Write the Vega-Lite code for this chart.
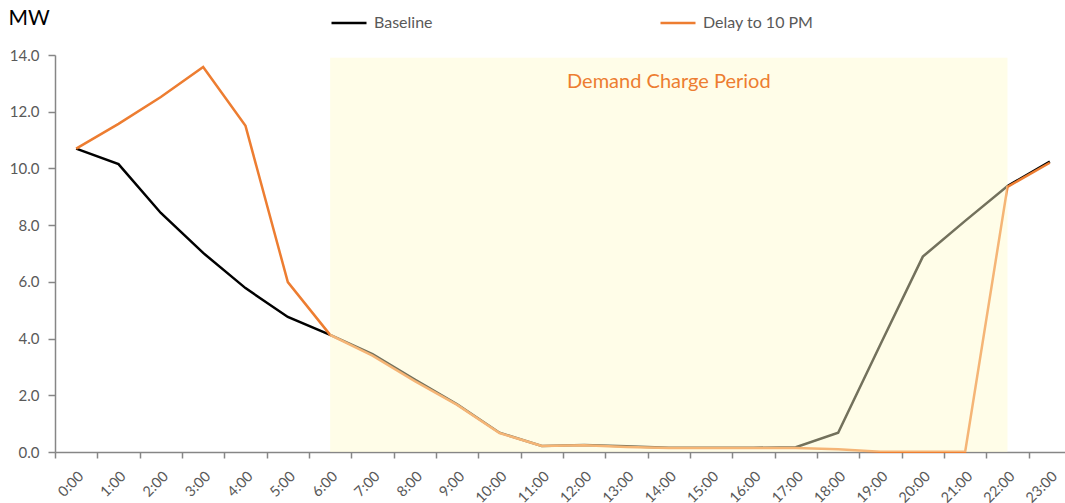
{
  "$schema": "https://vega.github.io/schema/vega-lite/v6.json",
  "width": 1010,
  "height": 397,
  "autosize": {"type": "none"},
  "padding": {"left": 55, "top": 55, "right": 0, "bottom": 51},
  "config": {
    "view": {"stroke": null},
    "font": "Lato",
    "axis": {"grid": false, "domainColor": "#868686", "tickColor": "#868686", "domainWidth": 1.5, "tickWidth": 1.5, "labelColor": "#595959", "labelFont": "Lato"},
    "legend": {"labelFont": "Lato"}
  },
  "datasets": {
    "series": [
      {"hour": "0:00", "series": "Baseline", "mw": 10.7},
      {"hour": "1:00", "series": "Baseline", "mw": 10.15},
      {"hour": "2:00", "series": "Baseline", "mw": 8.43},
      {"hour": "3:00", "series": "Baseline", "mw": 7.02},
      {"hour": "4:00", "series": "Baseline", "mw": 5.78},
      {"hour": "5:00", "series": "Baseline", "mw": 4.76},
      {"hour": "6:00", "series": "Baseline", "mw": 4.13},
      {"hour": "7:00", "series": "Baseline", "mw": 3.45},
      {"hour": "8:00", "series": "Baseline", "mw": 2.55},
      {"hour": "9:00", "series": "Baseline", "mw": 1.68},
      {"hour": "10:00", "series": "Baseline", "mw": 0.68},
      {"hour": "11:00", "series": "Baseline", "mw": 0.21},
      {"hour": "12:00", "series": "Baseline", "mw": 0.25},
      {"hour": "13:00", "series": "Baseline", "mw": 0.2},
      {"hour": "14:00", "series": "Baseline", "mw": 0.15},
      {"hour": "15:00", "series": "Baseline", "mw": 0.15},
      {"hour": "16:00", "series": "Baseline", "mw": 0.15},
      {"hour": "17:00", "series": "Baseline", "mw": 0.17},
      {"hour": "18:00", "series": "Baseline", "mw": 0.68},
      {"hour": "19:00", "series": "Baseline", "mw": 3.8},
      {"hour": "20:00", "series": "Baseline", "mw": 6.89},
      {"hour": "21:00", "series": "Baseline", "mw": 8.15},
      {"hour": "22:00", "series": "Baseline", "mw": 9.38},
      {"hour": "23:00", "series": "Baseline", "mw": 10.24},
      {"hour": "0:00", "series": "Delay to 10 PM", "mw": 10.7},
      {"hour": "1:00", "series": "Delay to 10 PM", "mw": 11.57},
      {"hour": "2:00", "series": "Delay to 10 PM", "mw": 12.52},
      {"hour": "3:00", "series": "Delay to 10 PM", "mw": 13.58},
      {"hour": "4:00", "series": "Delay to 10 PM", "mw": 11.5},
      {"hour": "5:00", "series": "Delay to 10 PM", "mw": 5.99},
      {"hour": "6:00", "series": "Delay to 10 PM", "mw": 4.13},
      {"hour": "7:00", "series": "Delay to 10 PM", "mw": 3.4},
      {"hour": "8:00", "series": "Delay to 10 PM", "mw": 2.5},
      {"hour": "9:00", "series": "Delay to 10 PM", "mw": 1.66},
      {"hour": "10:00", "series": "Delay to 10 PM", "mw": 0.67},
      {"hour": "11:00", "series": "Delay to 10 PM", "mw": 0.21},
      {"hour": "12:00", "series": "Delay to 10 PM", "mw": 0.24},
      {"hour": "13:00", "series": "Delay to 10 PM", "mw": 0.18},
      {"hour": "14:00", "series": "Delay to 10 PM", "mw": 0.14},
      {"hour": "15:00", "series": "Delay to 10 PM", "mw": 0.14},
      {"hour": "16:00", "series": "Delay to 10 PM", "mw": 0.14},
      {"hour": "17:00", "series": "Delay to 10 PM", "mw": 0.14},
      {"hour": "18:00", "series": "Delay to 10 PM", "mw": 0.1},
      {"hour": "19:00", "series": "Delay to 10 PM", "mw": 0.01},
      {"hour": "20:00", "series": "Delay to 10 PM", "mw": 0.01},
      {"hour": "21:00", "series": "Delay to 10 PM", "mw": 0.01},
      {"hour": "22:00", "series": "Delay to 10 PM", "mw": 9.35},
      {"hour": "23:00", "series": "Delay to 10 PM", "mw": 10.2}
    ],
    "period": [
      {"start": "6:00", "end": "22:00", "low": 0, "high": 13.9}
    ],
    "note": [
      {"hour": "14:00", "mw": 13.05, "label": "Demand Charge Period"}
    ]
  },
  "layer": [
    {
      "data": {"name": "series"},
      "mark": {"type": "line", "strokeWidth": 2.5},
      "encoding": {
        "x": {
          "field": "hour", "type": "ordinal", "sort": null,
          "scale": {
            "domain": ["0:00","1:00","2:00","3:00","4:00","5:00","6:00","7:00","8:00","9:00","10:00","11:00","12:00","13:00","14:00","15:00","16:00","17:00","18:00","19:00","20:00","21:00","22:00","23:00"],
            "type": "band", "range": [0, 1016], "paddingInner": 0, "paddingOuter": 0
          },
          "axis": {"title": null, "labelAngle": -45, "tickBand": "extent", "labelFontSize": 14.5, "tickSize": 6, "labelPadding": 11}
        },
        "y": {
          "field": "mw", "type": "quantitative",
          "scale": {"domain": [0, 14], "nice": false, "zero": true},
          "axis": {
            "values": [0, 2, 4, 6, 8, 10, 12, 14], "format": ".1f",
            "labelFontSize": 15, "tickSize": 7, "labelPadding": 9,
            "title": "MW", "titleAngle": 0, "titleX": -47, "titleY": -37,
            "titleAlign": "left", "titleBaseline": "middle",
            "titleFontSize": 21, "titleFontWeight": "normal", "titleColor": "#000000", "titleFont": "Lato"
          }
        },
        "color": {
          "field": "series", "type": "nominal",
          "scale": {"domain": ["Baseline", "Delay to 10 PM"], "range": ["#000000", "#ED7D31"]},
          "legend": {
            "title": null, "orient": "none", "legendX": 275, "legendY": -51,
            "direction": "horizontal", "columns": 2, "columnPadding": 222,
            "symbolType": "stroke", "symbolSize": 1225, "symbolStrokeWidth": 2.5,
            "labelFontSize": 16, "labelColor": "#595959", "labelOffset": 6
          }
        }
      }
    },
    {
      "data": {"name": "period"},
      "mark": {"type": "rect", "color": "#FFFACC", "opacity": 0.45},
      "encoding": {
        "x": {"field": "start", "type": "ordinal", "bandPosition": 0.5},
        "x2": {"field": "end", "bandPosition": 0.5},
        "y": {"field": "low", "type": "quantitative"},
        "y2": {"field": "high"}
      }
    },
    {
      "data": {"name": "note"},
      "mark": {"type": "text", "color": "#ED7D31", "fontSize": 20, "font": "Lato", "align": "center", "baseline": "middle"},
      "encoding": {
        "x": {"field": "hour", "type": "ordinal"},
        "y": {"field": "mw", "type": "quantitative"},
        "text": {"field": "label"}
      }
    }
  ]
}
